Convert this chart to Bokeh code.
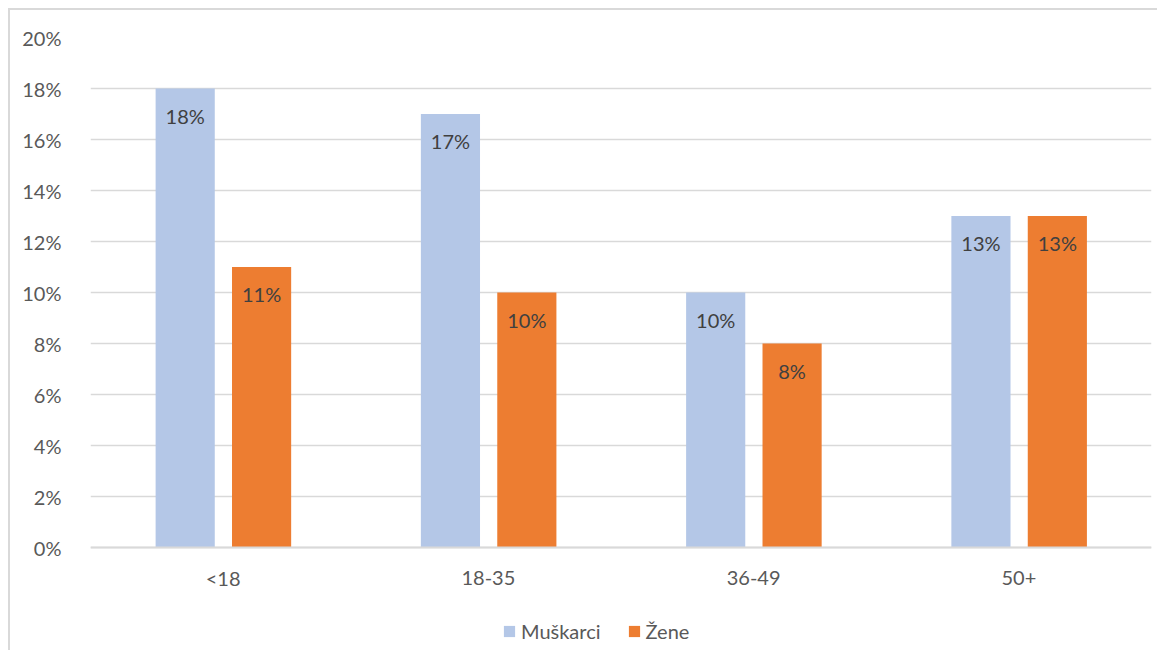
from bokeh.plotting import figure
from bokeh.models import ColumnDataSource, FactorRange, Legend, LegendItem, NumeralTickFormatter, FixedTicker, Range1d, Span
from bokeh.transform import dodge
from bokeh.core.properties import value
from bokeh.embed import file_html
from bokeh.resources import INLINE

categories = ["<18", "18-35", "36-49", "50+"]
muskarci = [18, 17, 10, 13]
zene = [11, 10, 8, 13]
y_ticks = [0, 2, 4, 6, 8, 10, 12, 14, 16, 18, 20]
series_names = ["Muškarci", "Žene"]

FONT = "Lato"
FS = "20px"
TXT = "#595959"
BLUE = "#B4C7E7"
ORANGE = "#ED7D31"
GRID = "#D9D9D9"

src = ColumnDataSource(dict(
    cat=categories,
    base=[0] * len(categories),
    m=[v / 100 for v in muskarci],
    z=[v / 100 for v in zene],
    ml=[f"{v}%" for v in muskarci],
    zl=[f"{v}%" for v in zene],
))

# frame spans from the 20% line down to the bottom of the chart; value 0 sits 103px above it
y_bottom = -0.20 * 103 / 510
p = figure(x_range=FactorRange(*categories, range_padding=0), y_range=Range1d(y_bottom, 0.20),
           width=1157, height=650, output_backend="svg", toolbar_location=None,
           min_border_left=90, min_border_top=37, min_border_right=6, min_border_bottom=0)
p.styles = {"background": ("linear-gradient(#D9D9D9,#D9D9D9) 8px 8px / 2px 100% no-repeat, "
                           "linear-gradient(#D9D9D9,#D9D9D9) 8px 8px / 100% 2px no-repeat, white")}
p.outline_line_color = None
p.background_fill_color = None
p.border_fill_color = None

bw = 0.223
r1 = p.vbar(x=dodge("cat", -0.143, range=p.x_range), top="m", width=bw, source=src, color=BLUE, line_color=None)
r2 = p.vbar(x=dodge("cat", 0.145, range=p.x_range), top="z", width=bw, source=src, color=ORANGE, line_color=None)

for col, lab, off in (("m", "ml", -0.143), ("z", "zl", 0.145)):
    p.text(x=dodge("cat", off, range=p.x_range), y=col, text=lab, source=src,
           text_font=value(FONT), text_font_size=FS, text_color="#404040",
           text_align="center", text_baseline="middle", y_offset=27)

# category axis: baseline and labels
p.add_layout(Span(location=0, dimension="width", line_color=GRID, line_width=2))
p.text(x="cat", y="base", text="cat", source=src, text_font=value(FONT), text_font_size=FS,
       text_color=TXT, text_align="center", text_baseline="middle", y_offset=30)

p.xaxis.visible = False
p.yaxis.ticker = FixedTicker(ticks=[t / 100 for t in y_ticks])
p.yaxis.formatter = NumeralTickFormatter(format="0%")
p.yaxis.axis_line_color = None
p.yaxis.major_tick_line_color = None
p.yaxis.minor_tick_line_color = None
p.yaxis.major_label_standoff = 23
p.yaxis.major_label_text_font = FONT
p.yaxis.major_label_text_font_size = FS
p.yaxis.major_label_text_color = TXT

p.xgrid.grid_line_color = None
p.ygrid.grid_line_color = GRID
p.ygrid.grid_line_width = 1.5

legend = Legend(items=[LegendItem(label=series_names[0], renderers=[r1]),
                       LegendItem(label=series_names[1], renderers=[r2])],
                orientation="horizontal", location=(412, 7),
                label_text_font=FONT, label_text_font_size=FS, label_text_color=TXT,
                glyph_width=14, glyph_height=14, label_standoff=5, spacing=26,
                padding=0, margin=0, border_line_color=None, background_fill_alpha=0)
p.add_layout(legend, "center")

open("out.html", "w").write(file_html(p, INLINE))
